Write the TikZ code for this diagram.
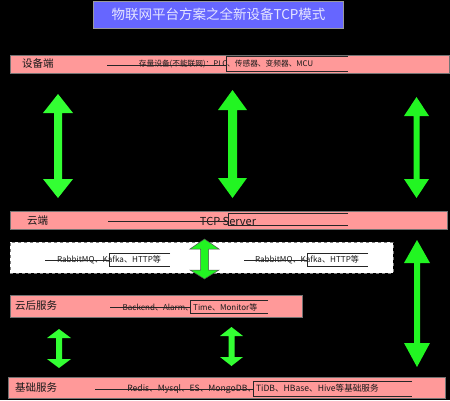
\documentclass[tikz,border=0pt]{standalone}
\usepackage{fontspec}
\setmainfont{Noto Sans CJK SC}
\definecolor{barpink}{HTML}{FF9999}
\definecolor{titleblue}{HTML}{6666FF}
\definecolor{titletext}{HTML}{E6E6FF}
\definecolor{agreen}{HTML}{22F522}
\definecolor{agreenb}{HTML}{33FF33}
\newcommand\dbarrow[8]{% style, cx, ytop, ybot, halfhead, halfshaft, headtop, headbot
  \filldraw[#1] (#2,#3) -- (#2+#5,#3+#7) -- (#2+#6,#3+#7) -- (#2+#6,#4-#8) -- (#2+#5,#4-#8)
    -- (#2,#4) -- (#2-#5,#4-#8) -- (#2-#6,#4-#8) -- (#2-#6,#3+#7) -- (#2-#5,#3+#7) -- cycle;}
\begin{document}
\begin{tikzpicture}[x=1pt,y=-1pt,
  bar/.style={fill=barpink, draw=black!55, line width=0.5pt, anchor=north west, inner sep=0pt},
  lbl/.style={anchor=west, inner sep=0pt, font=\fontsize{10.5}{12}\selectfont, text=black!90},
  itemtxt/.style={inner sep=0pt, font=\fontsize{7.7}{9}\selectfont, text=black!90},
  strikeline/.style={line width=0.6pt, draw=black!85},
  arr/.style={fill=agreen, draw=none},
  arrb/.style={fill=agreenb, draw=none},
  arro/.style={fill=agreen, draw=black!70, line width=0.5pt}]
\fill[black] (0,0) rectangle (450,400);
\useasboundingbox (0,0) rectangle (450,400);

% title
\node[fill=titleblue, draw=black!40, line width=0.4pt, minimum width=250pt, minimum height=27pt, inner sep=0pt,
  text=titletext, font=\fontsize{13.5}{16}\selectfont] (title) at (218.5,14.5) {物联网平台方案之全新设备TCP模式};

% device bar
\node[bar, minimum width=439pt, minimum height=18pt] (dev) at (10,55) {};
\node[lbl] (devl) at (22,64) {设备端};
\node[itemtxt] (devt) at (226,64) {存量设备(不能联网)：PLC、传感器、变频器、MCU};
\draw[strikeline] (107,65) -- (226,65);
\draw[strikeline] (348,56) -- (226,56) -- (226,71) -- (348,71);

% arrows device <-> cloud
\dbarrow{arrb}{58}{94}{198}{15}{4}{19}{19}
\dbarrow{arr}{232.5}{90}{198}{14.5}{4.5}{20}{20}
\dbarrow{arr}{416.5}{97}{198}{12.5}{3}{19}{19}

% cloud bar
\node[bar, minimum width=437pt, minimum height=18pt] (cloud) at (10,211) {};
\node[lbl] (cloudl) at (27,221) {云端};
\node[inner sep=0pt, font=\fontsize{11}{13}\selectfont, text=black!90] (cloudt) at (228,221) {TCP Server};
\draw[strikeline] (108,221) -- (228,221);
\draw[strikeline] (348,213) -- (228,213) -- (228,225) -- (348,225);

% queue box
\node[fill=white, draw=gray, dashed, line width=0.5pt, anchor=north west, minimum width=383pt, minimum height=31pt, inner sep=0pt] (mq) at (10,242) {};
\node[itemtxt, font=\fontsize{8.1}{10}\selectfont] (mq1) at (109,260) {RabbitMQ、Kafka、HTTP等};
\draw[strikeline] (45,260) -- (109,260);
\draw[strikeline] (170,253) -- (109,253) -- (109,266) -- (170,266);
\node[itemtxt, font=\fontsize{8.1}{10}\selectfont] (mq2) at (307,260) {RabbitMQ、Kafka、HTTP等};
\draw[strikeline] (244,260) -- (307,260);
\draw[strikeline] (368,253) -- (307,253) -- (307,266) -- (368,266);
\dbarrow{arro}{204.5}{239}{279}{14.5}{4}{10}{9}

% right long arrow
\dbarrow{arr}{417}{240}{367}{13}{3}{23}{24}

% backend bar
\node[bar, minimum width=292pt, minimum height=22pt] (back) at (10,295) {};
\node[lbl] (backl) at (15,306) {云后服务};
\node[itemtxt, font=\fontsize{8}{10}\selectfont] (backt) at (190,307) {Backend、Alarm、Time、Monitor等};
\draw[strikeline] (110,307) -- (190,307);
\draw[strikeline] (268,300) -- (190,300) -- (190,313) -- (268,313);

% small arrows
\dbarrow{arrb}{59}{329}{368}{12}{3}{9}{9}
\dbarrow{arrb}{231.5}{327}{366}{11.5}{3}{9}{9}

% base bar
\node[bar, minimum width=437pt, minimum height=21pt] (base) at (8,377) {};
\node[lbl] (basel) at (15,388) {基础服务};
\node[itemtxt, font=\fontsize{8.6}{10}\selectfont] (baset) at (253,389) {Redis、Mysql、ES、MongoDB、TiDB、HBase、Hive等基础服务};
\draw[strikeline] (95,389) -- (253,389);
\draw[strikeline] (412,381) -- (253,381) -- (253,396) -- (412,396);
\end{tikzpicture}
\end{document}
